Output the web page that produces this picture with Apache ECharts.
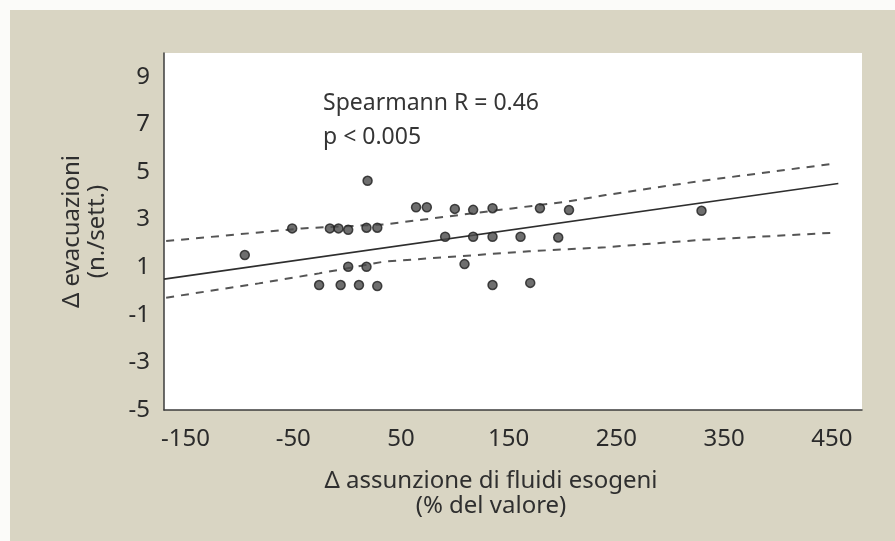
<!DOCTYPE html>
<html lang="it" style="height: 100%">
<head>
  <meta charset="utf-8">
  <title>Evacuazioni vs fluidi esogeni</title>
</head>
<body style="height: 100%; margin: 0">
  <div id="container" style="width: 895px; height: 541px"></div>
  <script type="text/javascript" src="https://fastly.jsdelivr.net/npm/echarts@6/dist/echarts.min.js"></script>
  <script type="text/javascript">
    // valori
    const pointsX = [-95, -51, -16, -8, 1, 18, 28, 19, 64, 74, 100, 117, 135, 179, 206, 329,
                     91, 117, 135, 161, 196, 109, 1, 18, -26, -6, 11, 28, 135, 170];
    const pointsY = [1.51, 2.63, 2.63, 2.63, 2.57, 2.66, 2.66, 4.63, 3.52, 3.52, 3.45, 3.41, 3.48, 3.48, 3.40, 3.37,
                     2.28, 2.28, 2.28, 2.28, 2.25, 1.13, 1.02, 1.02, 0.25, 0.25, 0.25, 0.21, 0.25, 0.34];

    const fitX = [-170, 456];
    const fitY = [0.50, 4.52];

    const upperX = [-168, -82, -42, 35, 91, 153, 203, 240, 326, 450];
    const upperY = [2.10, 2.46, 2.63, 2.80, 3.12, 3.47, 3.75, 4.03, 4.61, 5.34];

    const lowerX = [-168, -82, -26, 35, 107, 169, 240, 326, 452];
    const lowerY = [-0.28, 0.32, 0.74, 1.24, 1.47, 1.67, 1.84, 2.14, 2.45];

    const xTicks = [-150, -50, 50, 150, 250, 350, 450];
    const yTicks = [-5, -3, -1, 1, 3, 5, 7, 9];

    const zip = (xs, ys) => xs.map((x, i) => [x, ys[i]]);

    var dom = document.getElementById('container');
    var myChart = echarts.init(dom, null, { renderer: 'canvas' });

    const font = 'Noto Sans';

    var option = {
      animation: false,
      backgroundColor: '#d9d5c3',
      graphic: [
        { type: 'rect', left: 0, top: 0, shape: { width: 895, height: 10 }, style: { fill: '#fbfbf9' } },
        { type: 'rect', left: 0, top: 0, shape: { width: 10, height: 541 }, style: { fill: '#fbfbf9' } },
        {
          type: 'text',
          left: 323,
          top: 86,
          style: {
            text: 'Spearmann R = 0.46\np < 0.005',
            font: '23px "Noto Sans"',
            fill: '#353535',
            lineHeight: 34
          }
        }
      ],
      grid: {
        show: true,
        left: 164,
        right: 33,
        top: 53,
        bottom: 131,
        backgroundColor: '#ffffff',
        borderWidth: 0
      },
      xAxis: {
        type: 'value',
        min: -170,
        max: 478,
        name: 'Δ assunzione di fluidi esogeni\n(% del valore)',
        nameLocation: 'middle',
        nameGap: 59,
        nameTextStyle: {
          fontFamily: font,
          fontSize: 24,
          color: '#2f2f2f',
          lineHeight: 25,
          padding: [0, 44, 0, 0]
        },
        axisLine: { onZero: false, lineStyle: { color: '#3c3c3c', width: 1.5 } },
        axisTick: { show: false },
        splitLine: { show: false },
        axisLabel: {
          customValues: xTicks,
          margin: 17,
          fontFamily: font,
          fontSize: 24,
          color: '#2b2b2b'
        }
      },
      yAxis: {
        type: 'value',
        min: -5,
        max: 10,
        name: 'Δ evacuazioni\n(n./sett.)',
        nameLocation: 'middle',
        nameGap: 54,
        nameTextStyle: {
          fontFamily: font,
          fontSize: 24,
          color: '#2f2f2f',
          lineHeight: 25
        },
        axisLine: { show: true, onZero: false, lineStyle: { color: '#3c3c3c', width: 1.5 } },
        axisTick: { show: false },
        splitLine: { show: false },
        axisLabel: {
          customValues: yTicks,
          margin: 14,
          fontFamily: font,
          fontSize: 24,
          color: '#2b2b2b'
        }
      },
      series: [
        {
          type: 'line',
          data: zip(upperX, upperY),
          showSymbol: false,
          lineStyle: { color: '#555', width: 2, type: [8, 7] },
          z: 2
        },
        {
          type: 'line',
          data: zip(lowerX, lowerY),
          showSymbol: false,
          lineStyle: { color: '#555', width: 2, type: [8, 7] },
          z: 2
        },
        {
          type: 'line',
          data: zip(fitX, fitY),
          showSymbol: false,
          lineStyle: { color: '#2e2e2e', width: 1.6 },
          z: 3
        },
        {
          type: 'scatter',
          data: zip(pointsX, pointsY),
          symbolSize: 9,
          itemStyle: { color: '#4a4a4a', borderColor: '#1e1e1e', borderWidth: 1.5 },
          z: 4
        }
      ]
    };

    myChart.setOption(option);
    window.addEventListener('resize', myChart.resize);
  </script>
</body>
</html>
